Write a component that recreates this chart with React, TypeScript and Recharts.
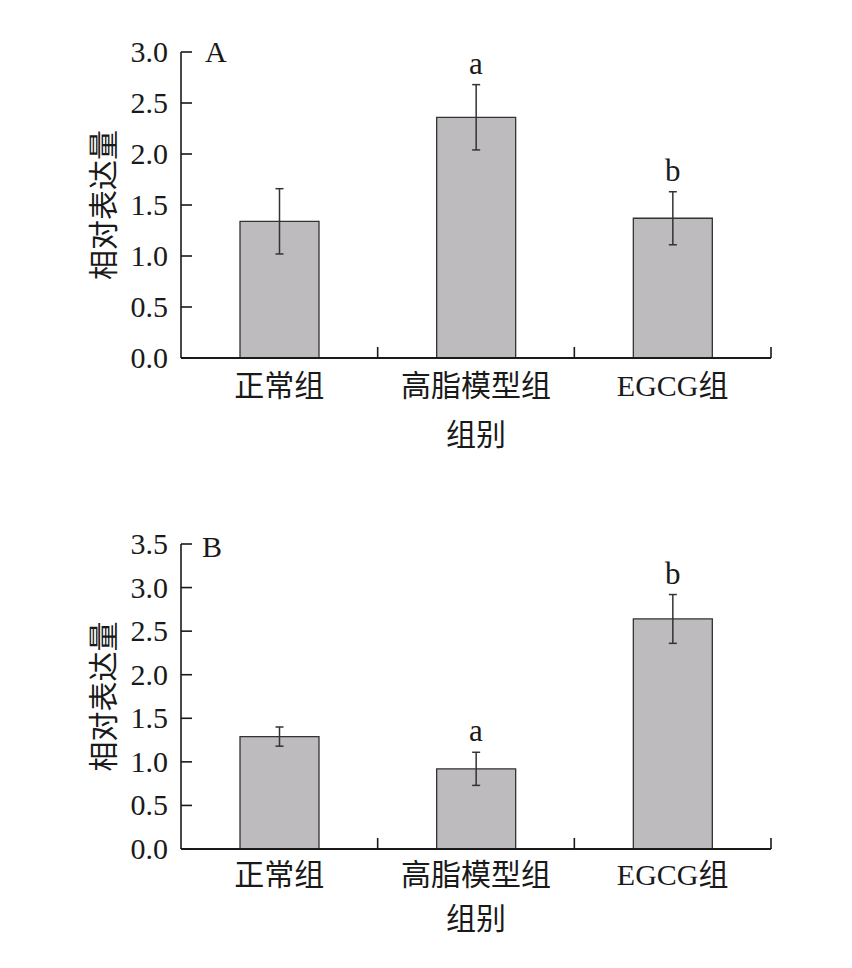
import React from 'react';
import { ComposedChart, Bar, Line, XAxis, YAxis, ErrorBar, LabelList } from 'recharts';

// groups on the x axis
const groups = ['正常组', '高脂模型组', 'EGCG组'];

// panel A
const meanA = [1.34, 2.36, 1.37];
const errA = [0.32, 0.32, 0.26];
const sigA = ['', 'a', 'b'];
const ticksA = [0, 0.5, 1, 1.5, 2, 2.5, 3];

// panel B
const meanB = [1.29, 0.92, 2.64];
const errB = [0.11, 0.19, 0.28];
const sigB = ['', 'a', 'b'];
const ticksB = [0, 0.5, 1, 1.5, 2, 2.5, 3, 3.5];

const FONT = '"Liberation Serif", "Noto Sans CJK SC", serif';
const INK = '#1a1a1a';
const W = 836;
const AXIS_W = 173;
const RIGHT = 73;
const PLOT_W = W - AXIS_W - RIGHT;

const GroupTick = (props: any) => {
    const { x, y, payload, gap } = props;
    const half = PLOT_W / groups.length / 2;
    return (
        <g>
            <line x1={x + half} x2={x + half} y1={y} y2={y - 11} stroke={INK} strokeWidth={1.6} />
            <text x={x} y={y + gap} textAnchor="middle" fontSize={30} fontFamily={FONT} fill={INK}>
                {payload.value}
            </text>
        </g>
    );
};

// y tick: inward tick mark plus right-aligned number
const ValueTick = (props: any) => {
    const { y, payload } = props;
    return (
        <g>
            <line x1={AXIS_W} x2={AXIS_W + 11} y1={y} y2={y} stroke={INK} strokeWidth={1.6} />
            <text x={AXIS_W - 13} y={y + 10} textAnchor="end" fontSize={30} fontFamily={FONT} fill={INK}>
                {Number(payload.value).toFixed(1)}
            </text>
        </g>
    );
};

type PanelProps = {
    letter: string;
    means: number[];
    errs: number[];
    sigs: string[];
    ticks: number[];
    height: number;
    top: number;
    bottom: number;
    tickGap: number;
    titleOffset: number;
    letterX: number;
    letterY: number;
};

const Panel: React.FC<PanelProps> = ({ letter, means, errs, sigs, ticks, height, top, bottom, tickGap, titleOffset, letterX, letterY }) => {
    const data = groups.map((g, i) => ({
        group: g,
        mean: means[i],
        err: errs[i],
        upper: means[i] + errs[i],
        sig: sigs[i],
    }));

    return (
        <div style={{ position: 'relative', width: W, height, fontFamily: FONT }}>
            <ComposedChart width={W} height={height} data={data} barCategoryGap="30%" margin={{ top, right: RIGHT, left: 0, bottom }}>
                <XAxis
                    dataKey="group"
                    height={100}
                    axisLine={{ stroke: INK, strokeWidth: 1.8 }}
                    tickLine={false}
                    tickSize={0}
                    tickMargin={0}
                    interval={0}
                    tick={(p: any) => <GroupTick {...p} gap={tickGap} />}
                    label={{ value: '组别', position: 'insideBottom', offset: titleOffset, style: { fontSize: 30, fontFamily: FONT, fill: INK } }}
                />
                <YAxis
                    width={AXIS_W}
                    domain={[ticks[0], ticks[ticks.length - 1]]}
                    ticks={ticks}
                    interval={0}
                    axisLine={{ stroke: INK, strokeWidth: 1.6 }}
                    tickLine={false}
                    tick={(p: any) => <ValueTick {...p} />}
                    label={{ value: '相对表达量', angle: -90, position: 'insideLeft', offset: 95, style: { textAnchor: 'middle', fontSize: 30, fontFamily: FONT, fill: INK } }}
                />
                <Bar dataKey="mean" fill="#bdbbbd" stroke="#333" strokeWidth={1.3} isAnimationActive={false}>
                    <ErrorBar dataKey="err" width={4} stroke="#333" strokeWidth={1.5} />
                </Bar>
                <Line dataKey="upper" stroke="none" dot={false} activeDot={false} legendType="none" isAnimationActive={false}>
                    <LabelList dataKey="sig" position="top" offset={11} style={{ fontSize: 31, fontFamily: FONT, fill: INK }} />
                </Line>
            </ComposedChart>
            <svg width={W} height={height} style={{ position: 'absolute', left: 0, top: 0, pointerEvents: 'none' }}>
                <text x={letterX} y={letterY} fontSize={30} fontFamily={FONT} fill={INK}>{letter}</text>
            </svg>
        </div>
    );
};

export default function App() {
    return (
        <div style={{ width: W }}>
            <Panel letter="A" means={meanA} errs={errA} sigs={sigA} ticks={ticksA}
                height={484} top={44} bottom={34} tickGap={38} titleOffset={13} letterX={197} letterY={54} />
            <Panel letter="B" means={meanB} errs={errB} sigs={sigB} ticks={ticksB}
                height={476} top={52} bottom={19} tickGap={36} titleOffset={20} letterX={194} letterY={65} />
        </div>
    );
}
